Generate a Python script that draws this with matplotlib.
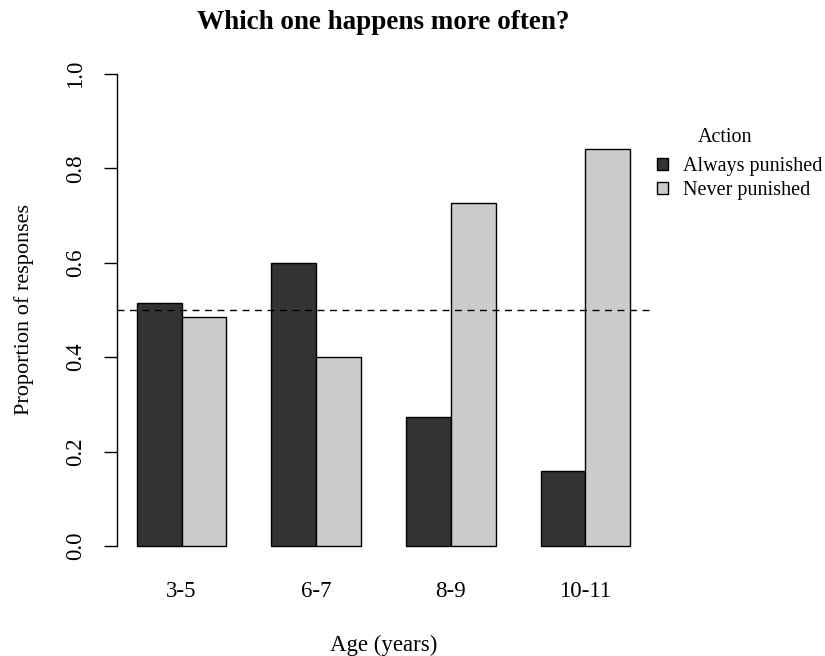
import numpy as np
import matplotlib.pyplot as plt
from matplotlib.patches import Patch

# data
age_groups = ['3-5', '6-7', '8-9', '10-11']
always_punished = [0.515, 0.600, 0.273, 0.158]
never_punished = [0.485, 0.400, 0.727, 0.842]
series_names = ['Always punished', 'Never punished']
series_colors = ['#333333', '#cccccc']

plt.rcParams['font.family'] = ['Liberation Serif', 'DejaVu Serif']

fig = plt.figure(figsize=(8.25, 6.56), dpi=100)
ax = fig.add_axes([0.1418, 0.139, 0.788 - 0.1418, 0.916 - 0.139])

# R style barplot(beside=TRUE): groups of 2 bars with one bar gap between
n = len(age_groups)
left_dark = 1 + 3 * np.arange(n)
ax.bar(left_dark, always_punished, width=1, align='edge',
       color=series_colors[0], edgecolor='black', linewidth=1)
ax.bar(left_dark + 1, never_punished, width=1, align='edge',
       color=series_colors[1], edgecolor='black', linewidth=1)

ax.axhline(0.5, color='black', linestyle=(0, (5, 4)), linewidth=1)

ax.set_xlim(0.56, 12.44)
ax.set_ylim(-0.04, 1.04)

for s in ['top', 'right', 'bottom']:
    ax.spines[s].set_visible(False)
ax.spines['left'].set_bounds(0, 1)
ax.spines['left'].set_linewidth(1)

yticks = np.arange(0, 1.01, 0.2)
ax.set_yticks(yticks)
ax.set_yticklabels([f'{v:.1f}' for v in yticks], rotation=90, va='center')
ax.tick_params(axis='y', length=9.5, width=1, pad=13, labelsize=16.5)

ax.set_xticks(left_dark + 1)
ax.set_xticklabels(age_groups)
ax.tick_params(axis='x', length=0, pad=12, labelsize=16.5)

ax.set_xlabel('Age (years)', fontsize=16.5, labelpad=23)
ax.set_ylabel('Proportion of responses', fontsize=16, labelpad=22)
fig.text(0.464, 0.966, 'Which one happens more often?', ha='center', va='center',
         fontsize=19.5, fontweight='bold')

# legend drawn like R's legend(): title placed separately above entries
fig.text(725 / 825, 1 - 138 / 656, 'Action', ha='center', va='center', fontsize=14.5)
handles = [Patch(facecolor=c, edgecolor='black', linewidth=1) for c in series_colors]
leg = fig.legend(handles, series_names, loc='upper left',
                 bbox_to_anchor=(657 / 825, 1 - 157 / 656), frameon=False, fontsize=14.5,
                 handlelength=0.55, handleheight=0.55, borderpad=0, borderaxespad=0,
                 handletextpad=0.75, labelspacing=0.25)

fig.savefig('out.png', dpi=100)
